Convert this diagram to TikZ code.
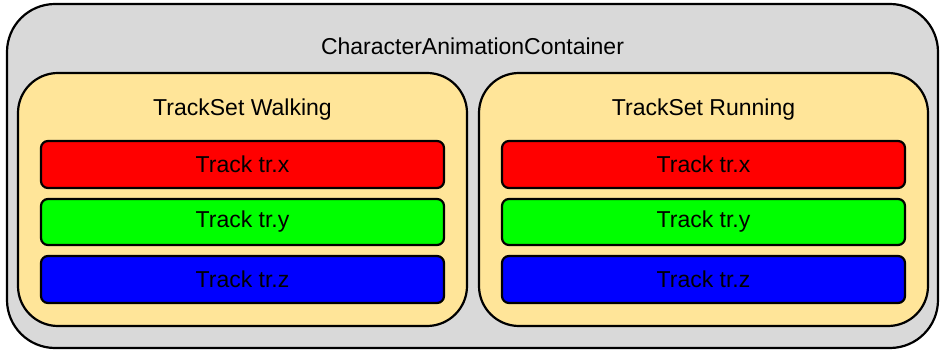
\documentclass[tikz,border=0pt]{standalone}
\usepackage{fontspec}
\setmainfont{Liberation Sans}
\definecolor{containergray}{HTML}{D9D9D9}
\definecolor{setorange}{HTML}{FFE599}
\begin{document}
\begin{tikzpicture}[x=1pt,y=-1pt,
  box/.style={draw=black, line width=2.2pt},
  container/.style={box, fill=containergray, rounded corners=48pt},
  trackset/.style={box, fill=setorange, rounded corners=40pt},
  track/.style={box, rounded corners=7pt},
  label/.style={font=\fontsize{23}{26}\selectfont, text=black}]
\useasboundingbox (0,0) rectangle (945,355);

% outer container
\draw[container] (7,4) rectangle (938,348);
\node[label] (title) at (472.5,46) {CharacterAnimationContainer};

% track sets
\draw[trackset] (18,73) rectangle (467,326);
\draw[trackset] (479,73) rectangle (928,326);
\node[label] (walk) at (242.5,110) {TrackSet Walking};
\node[label] (run) at (703.5,110) {TrackSet Running};

% tracks in the walking set
\draw[track, fill=red]   (41,141) rectangle (444,188);
\draw[track, fill=green] (41,199) rectangle (444,245);
\draw[track, fill=blue]  (41,256) rectangle (444,303);
\node[label] (wx) at (242.5,164.5) {Track tr.x};
\node[label] (wy) at (242.5,222) {Track tr.y};
\node[label] (wz) at (242.5,279.5) {Track tr.z};

% tracks in the running set
\draw[track, fill=red]   (502,141) rectangle (905,188);
\draw[track, fill=green] (502,199) rectangle (905,245);
\draw[track, fill=blue]  (502,256) rectangle (905,303);
\node[label] (rx) at (703.5,164.5) {Track tr.x};
\node[label] (ry) at (703.5,222) {Track tr.y};
\node[label] (rz) at (703.5,279.5) {Track tr.z};
\end{tikzpicture}
\end{document}
